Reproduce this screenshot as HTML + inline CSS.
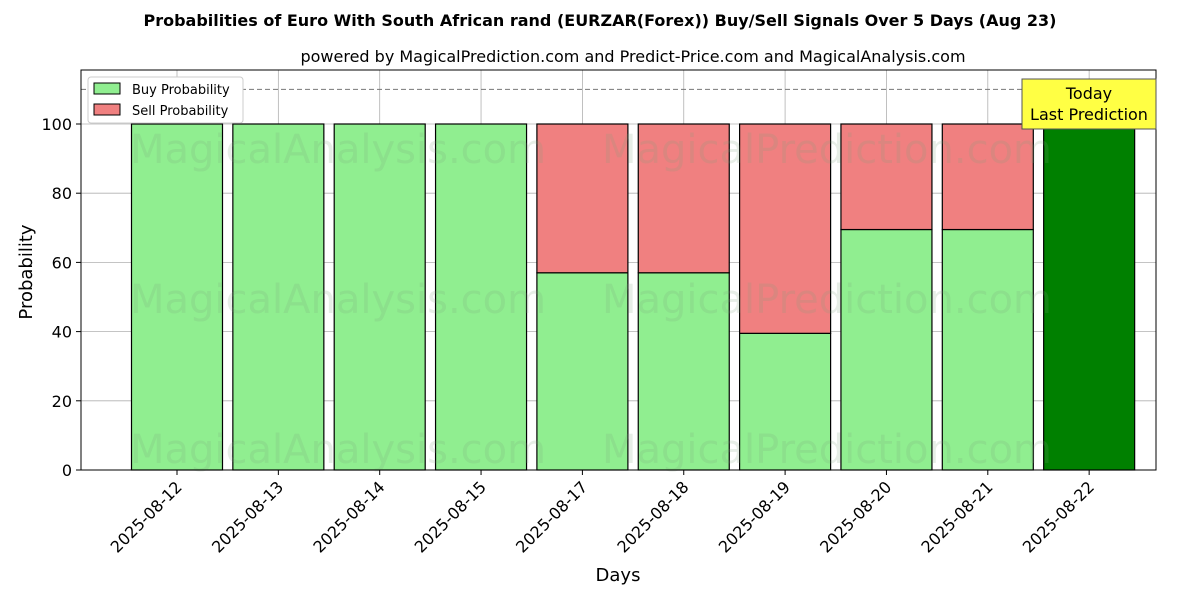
<!DOCTYPE html>
<html><head><meta charset="utf-8"><style>body{margin:0;background:#fff}svg{font-family:"DejaVu Sans","Liberation Sans",sans-serif}</style></head>
<body>
<svg id="chart" width="1200" height="600">
<text x="600" y="26" text-anchor="middle" font-size="16" font-weight="bold">Probabilities of Euro With South African rand (EURZAR(Forex)) Buy/Sell Signals Over 5 Days (Aug 23)</text>
<text x="633" y="62" text-anchor="middle" font-size="16">powered by MagicalPrediction.com and Predict-Price.com and MagicalAnalysis.com</text>
<g id="grid"></g><g id="bars"></g>
<g font-size="40" fill="rgba(120,160,120,0.18)">
<text x="130" y="163">MagicalAnalysis.com</text><text x="602" y="163">MagicalPrediction.com</text>
<text x="130" y="313">MagicalAnalysis.com</text><text x="602" y="313">MagicalPrediction.com</text>
<text x="130" y="463">MagicalAnalysis.com</text><text x="602" y="463">MagicalPrediction.com</text>
</g>
<line x1="81" x2="1156" y1="89.4" y2="89.4" stroke="#777" stroke-dasharray="5,3"/>
<rect x="81" y="70" width="1075" height="400" fill="none" stroke="#000"/>
<g id="axes"></g>
<text x="32" y="272" transform="rotate(-90 32 272)" text-anchor="middle" font-size="18">Probability</text>
<text x="618" y="581" text-anchor="middle" font-size="18">Days</text>
<g>
<rect x="88" y="77" width="155" height="46" fill="#fff" stroke="#ccc" rx="3"/>
<rect x="94" y="83" width="26" height="11" fill="#90ee90" stroke="#000"/>
<text x="132" y="94" font-size="13">Buy Probability</text>
<rect x="94" y="104" width="26" height="11" fill="#f08080" stroke="#000"/>
<text x="132" y="115" font-size="13">Sell Probability</text>
</g>
<g>
<rect x="1022" y="79" width="134" height="50" fill="#ffff44" stroke="#555"/>
<text x="1089" y="99" text-anchor="middle" font-size="16">Today</text>
<text x="1089" y="120" text-anchor="middle" font-size="16">Last Prediction</text>
</g>
</svg>
<script>
const categories=["2025-08-12","2025-08-13","2025-08-14","2025-08-15","2025-08-17","2025-08-18","2025-08-19","2025-08-20","2025-08-21","2025-08-22"];
const buyValues=[100,100,100,100,57,57,39.5,69.5,69.5,100];
const sellValues=[0,0,0,0,43,43,60.5,30.5,30.5,0];
const yTicks=[0,20,40,60,80,100];
const ns="http://www.w3.org/2000/svg";
const xs=i=>177+i*101.35;
const ys=v=>470-v*3.46;
const bw=91;
function mk(t,a,p){const e=document.createElementNS(ns,t);for(const k in a)e.setAttribute(k,a[k]);p.appendChild(e);return e;}
const grid=document.getElementById('grid'),bars=document.getElementById('bars'),axes=document.getElementById('axes');
yTicks.forEach(v=>{
 const g=mk('line',{x1:81,x2:1156,y1:ys(v),y2:ys(v),stroke:'#b0b0b0','stroke-width':0.8},grid);
 
 
 mk('line',{x1:76,x2:81,y1:ys(v),y2:ys(v),stroke:'#000'},axes);
 const t=mk('text',{x:72,y:ys(v)+6,'text-anchor':'end','font-size':16},axes);t.textContent=v;
 
 
});
categories.forEach((c,i)=>{
 const x=xs(i);
 const g=mk('line',{x1:x,x2:x,y1:70,y2:470,stroke:'#b0b0b0','stroke-width':0.8},grid);
 
 
 const last=i===categories.length-1;
 const b=mk('rect',{x:x-bw/2,y:ys(buyValues[i]),width:bw,height:ys(0)-ys(buyValues[i]),fill:last?'#008000':'#90ee90',stroke:'#000','stroke-width':1.2},bars);
 
 
 if(sellValues[i]>0){
  const s=mk('rect',{x:x-bw/2,y:ys(buyValues[i]+sellValues[i]),width:bw,height:ys(buyValues[i])-ys(buyValues[i]+sellValues[i]),fill:'#f08080',stroke:'#000','stroke-width':1.2},bars);
  
  
 }
 mk('line',{x1:x,x2:x,y1:470,y2:475,stroke:'#000'},axes);
 const t=mk('text',{x:x+6,y:488,'text-anchor':'end','font-size':16,transform:`rotate(-45 ${x+6} 488)`},axes);t.textContent=c;
 
 
});
</script>
</body></html>
